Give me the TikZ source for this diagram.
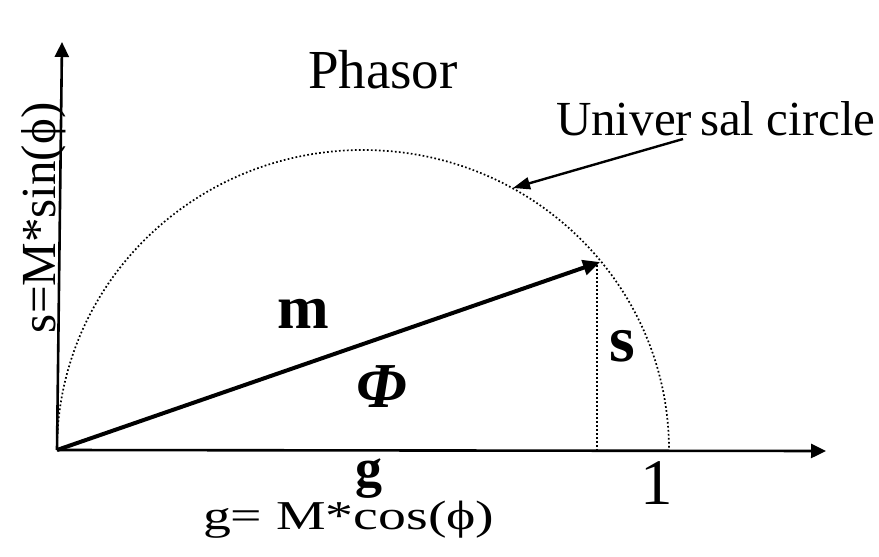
\documentclass[tikz,border=0pt]{standalone}
\usepackage{fontspec}
\setmainfont{Liberation Serif}
\usetikzlibrary{arrows.meta}
\tikzset{
  axisline/.style={line width=2.6pt,-{Triangle[length=15pt,width=14pt]}},
  vecline/.style={line width=4pt,-{Triangle[length=17pt,width=15pt]}},
  pointer/.style={line width=2.4pt,-{Triangle[length=17pt,width=12pt]}},
  dotline/.style={line width=1.7pt,dash pattern=on 1.7pt off 2.3pt},
  lbl/.style={inner sep=0pt,outer sep=0pt,anchor=base west}
}
\newcommand{\fs}[1]{\fontsize{#1}{#1}\selectfont}
\begin{document}
\begin{tikzpicture}[x=1pt,y=-1pt]
\useasboundingbox (0,0) rectangle (879,557);
\coordinate (O) at (57,450);
\coordinate (ytip) at (62,42);
\coordinate (xtip) at (826,451);
\coordinate (mtip) at (600,262);
\coordinate (stop) at (597,265);
\coordinate (sbot) at (597,451);
\coordinate (ustart) at (683,139);
\coordinate (uend) at (513,188);
% semicircle
\draw[dotline] (O) arc[start angle=180,end angle=360,x radius=306,y radius=300];
\draw[dotline] (stop) -- (sbot);
% axes
\draw[axisline] (O) -- (ytip);
\draw[axisline] (O) -- (xtip);
% vector
\draw[vecline] (O) -- (mtip);
% pointer
\draw[pointer] (ustart) -- (uend);
% labels
\node[lbl] (phasor) at (308,88) {\fs{55}Phasor};
\node[lbl] (univ) at (556,135) {\fs{49}Univer\kern8pt sal circle};
\node[lbl] (m) at (277,328) {\fs{62}\bfseries m};
\node[lbl] (phi) at (356,407) {\fs{64}\bfseries\itshape Φ};
\node[lbl] (s) at (609,361) {\fs{66}\bfseries s};
\node[lbl] (g) at (355,486) {\fs{54}\bfseries g};
\node[lbl] (one) at (640,504) {\fs{65}1};
\node[lbl] (gdef) at (203,529) {\scalebox{1.36}[1]{\fs{41}g= M*cos(ϕ)}};
\node[lbl,rotate=90] (sdef) at (55,333) {\fs{49}s=M*sin(ϕ)};
\end{tikzpicture}
\end{document}
